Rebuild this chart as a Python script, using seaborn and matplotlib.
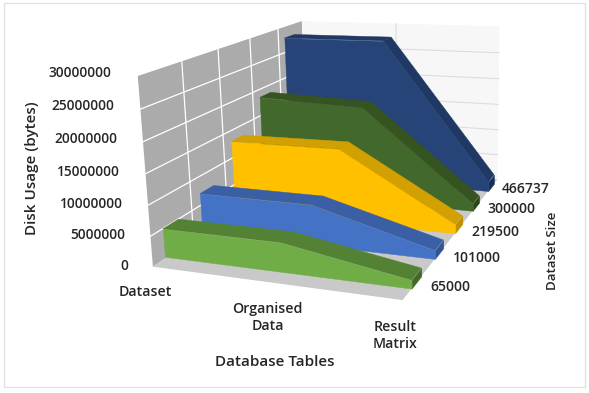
import numpy as np
import seaborn as sns
import matplotlib
matplotlib.use('Agg')
import matplotlib.pyplot as plt
from matplotlib.patches import Rectangle
from mpl_toolkits.mplot3d.art3d import Poly3DCollection

tables = ['Dataset', 'Organised\nData', 'Result\nMatrix']
sizes = ['65000', '101000', '219500', '300000', '466737']
usage_65000 = [4700000, 4700000, 1300000]
usage_101000 = [6800000, 6800000, 1400000]
usage_219500 = [12800000, 13000000, 1500000]
usage_300000 = [18300000, 17600000, 1300000]
usage_466737 = [27700000, 27800000, 1800000]
z_ticks = [0, 5000000, 10000000, 15000000, 20000000, 25000000, 30000000]

sns.set_theme(style='white')
plt.rcParams['font.family'] = ['Open Sans', 'DejaVu Sans']
plt.rcParams['font.weight'] = 'semibold'
plt.rcParams['text.color'] = '#262626'

front_colors = sns.color_palette(['#70AD47', '#4472C4', '#FFC000', '#43682B', '#264478'])
top_colors = sns.color_palette(['#548235', '#3A5FA5', '#D2A000', '#35541F', '#203864'])
end_colors = sns.color_palette(['#43682B', '#2F5597', '#BF9000', '#2B4519', '#1A2F55'])

fig = plt.figure(figsize=(5.89, 3.93), dpi=100, facecolor='white')
S = 800
ax = fig.add_axes([(294.5 + 37.647 - S/2)/589, (196.5 + 50.741 - S/2)/393, S/589, S/393],
                  projection='3d', computed_zorder=False, facecolor='none')
ax.view_init(14.326, -68.313, 1.524)
ax.set_proj_type('persp', focal_length=0.225)
ax.set_box_aspect((1.217, 1.806, 0.901), zoom=0.556)

x = np.arange(len(tables))
y = np.arange(len(sizes))

ax.xaxis.set_pane_color('#ababab')
ax.yaxis.set_pane_color('#f7f7f7')
ax.zaxis.set_pane_color('#c9c9c9')
for a in (ax.xaxis, ax.yaxis, ax.zaxis):
    a.pane.set_edgecolor('none')
    a.line.set_color('none')
ax.grid(False)
ax.zaxis._axinfo['juggled'] = (1, 2, 0)

# first two x ticks sit a little right of the categories so the labels line up
ax.set_xticks(np.minimum(x + 0.05, 2), tables, fontsize=10.2, linespacing=1.3)
ax.set_yticks(y, sizes, fontsize=10)
ax.set_zticks(z_ticks, [str(v) for v in z_ticks], fontsize=9.8)
ax.set_xlim(0.02, 2, view_margin=0)
ax.set_ylim(-0.55, 4.45, view_margin=0)
ax.set_zlim(0, 30000000, view_margin=0)
ax.tick_params(axis='both', color='none')
ax.tick_params(axis='x', pad=8)
ax.tick_params(axis='y', pad=8)
ax.tick_params(axis='z', pad=9)
for t in ax.zaxis.get_ticklabels():
    t.set_ha('right')
    t.set_va('bottom')
for t in ax.yaxis.get_ticklabels():
    t.set_ha('left')
    t.set_va('bottom')

# wall grid lines
x0, x1 = ax.get_xlim()
y0, y1 = ax.get_ylim()
for v in z_ticks[1:-1]:
    ax.plot([x0, x0], [y0, y1], [v, v], color='white', lw=0.9, zorder=1)
    ax.plot([x0, x1], [y1, y1], [v, v], color='#dddddd', lw=0.8, zorder=1)
for b in y[:-1] + 0.5:
    ax.plot([x0, x0], [b, b], [0, z_ticks[-1]], color='white', lw=0.9, zorder=1)
ax.plot([1, 1], [y1, y1], [0, z_ticks[-1]], color='#dddddd', lw=0.8, zorder=1)

all_usage = [usage_65000, usage_101000, usage_219500, usage_300000, usage_466737]
half = 0.2
# back series first so the front ones cover them
for i in y[::-1]:
    z = all_usage[i]
    yf, yb = i - half, i + half
    order = 10 + 3 * (len(y) - i)
    front = [list(zip(x, [yf] * 3, z)) + [(2, yf, 0), (0, yf, 0)]]
    tops = [[(x[k], yf, z[k]), (x[k + 1], yf, z[k + 1]), (x[k + 1], yb, z[k + 1]), (x[k], yb, z[k])]
            for k in range(2)]
    end = [[(2, yf, 0), (2, yb, 0), (2, yb, z[2]), (2, yf, z[2])]]
    ax.add_collection3d(Poly3DCollection(tops, facecolors=top_colors[i], edgecolors=top_colors[i],
                                         linewidths=0.3, zorder=order), autolim=False)
    ax.add_collection3d(Poly3DCollection(end, facecolors=end_colors[i], edgecolors=end_colors[i],
                                         linewidths=0.3, zorder=order + 1), autolim=False)
    ax.add_collection3d(Poly3DCollection(front, facecolors=front_colors[i], edgecolors=front_colors[i],
                                         linewidths=0.3, zorder=order + 2), autolim=False)

fig.text(32 / 589, 1 - 168 / 393, 'Disk Usage (bytes)', rotation=90, ha='center', va='center', fontsize=11)
fig.text(275 / 589, 1 - 362 / 393, 'Database Tables', ha='center', va='center', fontsize=11)
fig.text(552 / 589, 1 - 251 / 393, 'Dataset Size', rotation=90, ha='center', va='center', fontsize=9.5)
fig.add_artist(Rectangle((4 / 589, 1 - 387 / 393), 581 / 589, 384 / 393, transform=fig.transFigure,
                         facecolor='none', edgecolor='#e2e2e2', lw=1))

fig.savefig('out.png', dpi=100)
